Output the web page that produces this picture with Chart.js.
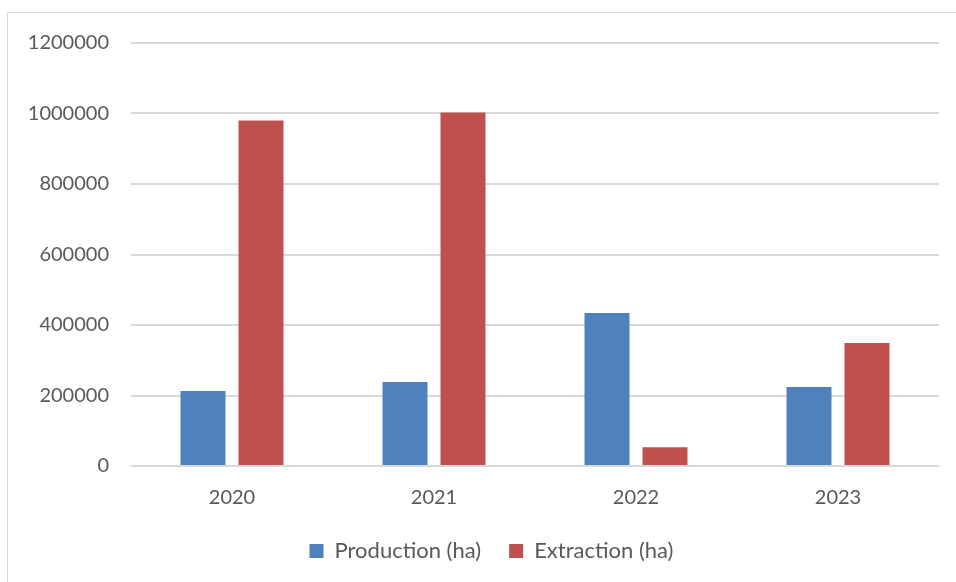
<!DOCTYPE html>
<html>
<head>
<meta charset="utf-8">
<script src="https://cdn.jsdelivr.net/npm/chart.js@4"></script>
<style>
  html, body { margin: 0; padding: 0; background: #fff; }
  body { width: 956px; height: 582px; position: relative; overflow: hidden; }
  #frame {
    position: absolute; left: 7px; top: 12px; width: 1000px; height: 700px;
    border: 1px solid #d9d9d9; box-sizing: border-box;
  }
  /* chart box spans the whole frame, wider than the window */
  #wrap { position: absolute; left: 7px; top: 0; width: 969px; height: 582px; }
</style>
</head>
<body>
<div id="frame"></div>
<div id="wrap"><canvas id="chart"></canvas></div>
<script>
const YEARS = ['2020', '2021', '2022', '2023'];
const PRODUCTION = [213000, 238000, 434000, 224000];
const EXTRACTION = [980000, 1003000, 53000, 349000];
const Y_MAX = 1200000;
const Y_STEP = 200000;

const TEXT = '#595959';
const GRID = '#d9d9d9';
const FONT = 'Lato, "Open Sans", sans-serif';
const PAD_RIGHT = 37;

Chart.defaults.font.family = FONT;
Chart.defaults.color = TEXT;

// Legend box stops at the right padding; move it so it is centred in the whole frame
const centerLegend = {
  id: 'centerLegend',
  afterLayout(chart) {
    const shift = PAD_RIGHT / 2;
    chart.legend.left += shift;
    chart.legend.right += shift;
  },
};

new Chart(document.getElementById('chart'), {
  type: 'bar',
  data: {
    labels: YEARS,
    datasets: [
      {
        label: 'Production (ha)',
        data: PRODUCTION,
        backgroundColor: '#4f81bd',
        categoryPercentage: 0.574,
        barPercentage: 0.776,
      },
      {
        label: 'Extraction (ha)',
        data: EXTRACTION,
        backgroundColor: '#c0504d',
        categoryPercentage: 0.574,
        barPercentage: 0.776,
      },
    ],
  },
  options: {
    responsive: true,
    maintainAspectRatio: false,
    animation: false,
    layout: {
      padding: { top: 43, right: PAD_RIGHT, left: 0, bottom: 10 },
    },
    scales: {
      x: {
        grid: { display: false },
        border: { display: false },
        ticks: { font: { size: 20 }, padding: 12 },
        afterFit: (scale) => { scale.height = 46; },
      },
      y: {
        min: 0,
        max: Y_MAX,
        ticks: {
          stepSize: Y_STEP,
          padding: 22,
          font: { size: 20 },
          callback: (value) => String(value),
        },
        grid: { color: GRID, lineWidth: 2, drawTicks: false },
        border: { display: false },
        afterFit: (scale) => { scale.width = 124; },
      },
    },
    plugins: {
      legend: {
        position: 'bottom',
        labels: {
          boxWidth: 14,
          boxHeight: 14,
          padding: 28,
          font: { size: 22 },
          color: TEXT,
        },
      },
      tooltip: { enabled: false },
    },
  },
  plugins: [centerLegend],
});
</script>
</body>
</html>
